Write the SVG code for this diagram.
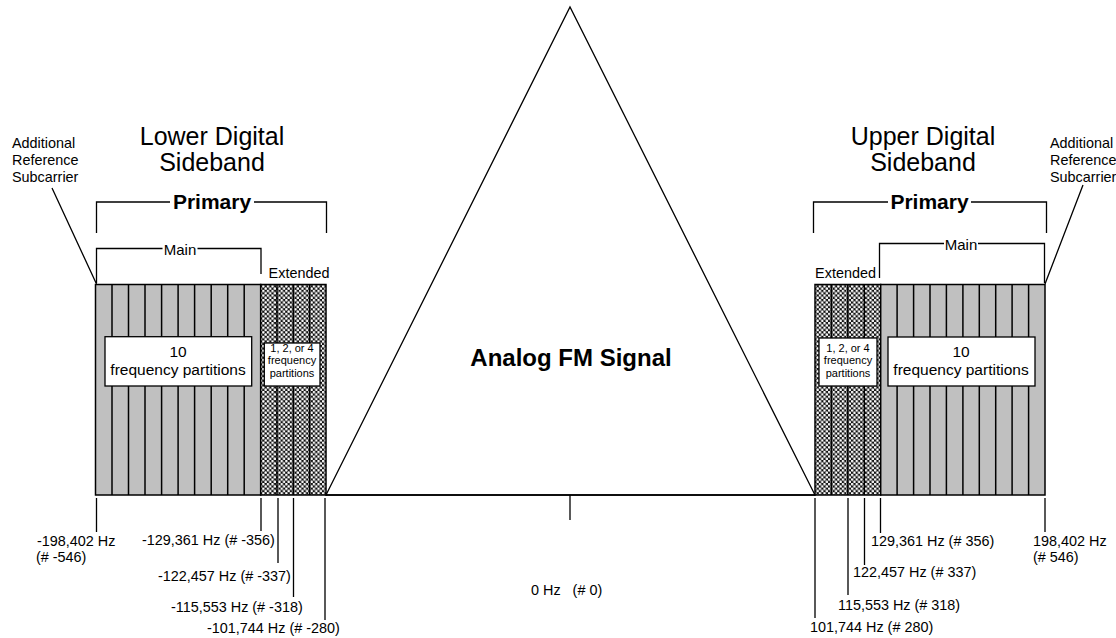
<svg xmlns="http://www.w3.org/2000/svg" width="1116" height="638" viewBox="0 0 1116 638">
<style>
text{font-family:"Liberation Sans",Arial,sans-serif;fill:#000}
.t14{font-size:14.4px}
.t11{font-size:11px}
.big{font-size:25px}
.pri{font-size:21px;font-weight:bold}
.ln{stroke:#000;stroke-width:1.3;fill:none}
.col{stroke:#000;stroke-width:1.5}
.gray{fill:#c0c0c0;stroke:#000;stroke-width:1.5}
.hat{fill:url(#xh);stroke:#000;stroke-width:1.5}
.box{fill:#fff;stroke:#000;stroke-width:1.3}
</style>
<defs>
<pattern id="xh" patternUnits="userSpaceOnUse" width="4.6" height="4.6">
<rect width="4.6" height="4.6" fill="#111"/>
<circle cx="1.15" cy="1.15" r="1.3" fill="#fff"/>
<circle cx="3.45" cy="3.45" r="1.3" fill="#fff"/>
</pattern>
</defs>
<rect width="1116" height="638" fill="#fff"/>

<g id="analog">
<path class="ln" d="M326,495 L570,7 L815,495 Z"/>
<text x="571" y="366" text-anchor="middle" style="font-size:24px;font-weight:bold">Analog FM Signal</text>
</g>

<g id="lower-sideband">
<text class="big" x="212" y="145" text-anchor="middle">Lower Digital</text>
<text class="big" x="212" y="171" text-anchor="middle">Sideband</text>
<rect class="gray" x="95.5" y="284.5" width="165.2" height="210.5"/>
<rect class="hat" x="260.7" y="284.5" width="65.3" height="210.5"/>
<path class="col" d="M112,284.5V495M128.5,284.5V495M145,284.5V495M161.6,284.5V495M178.1,284.5V495M194.6,284.5V495M211.2,284.5V495M227.7,284.5V495M244.2,284.5V495M277,284.5V495M293.3,284.5V495M309.6,284.5V495"/>
<rect class="box" x="105" y="336.7" width="146.7" height="49.3"/>
<text x="178" y="357" text-anchor="middle" style="font-size:15.5px">10</text>
<text x="178" y="375" text-anchor="middle" style="font-size:15.5px">frequency partitions</text>
<rect class="box" x="264.3" y="343" width="55.7" height="43"/>
<text class="t11" x="292" y="352" text-anchor="middle">1, 2, or 4</text>
<text class="t11" x="292" y="364" text-anchor="middle">frequency</text>
<text class="t11" x="292" y="377" text-anchor="middle">partitions</text>
</g>

<g id="lower-brackets">
<path class="ln" d="M96.5,233V202H170M254,202H326.5V233"/>
<text class="pri" x="212" y="209" text-anchor="middle">Primary</text>
<path class="ln" d="M96.5,283V248.5H162.5M197.5,248.5H261V274"/>
<text x="180" y="255" text-anchor="middle" style="font-size:15px">Main</text>
<text class="t14" x="299" y="278" text-anchor="middle">Extended</text>
</g>

<g id="upper-sideband">
<text class="big" x="923" y="145" text-anchor="middle">Upper Digital</text>
<text class="big" x="923" y="171" text-anchor="middle">Sideband</text>
<rect class="hat" x="815" y="284.5" width="65.7" height="210.5"/>
<rect class="gray" x="880.7" y="284.5" width="164.3" height="210.5"/>
<path class="col" d="M831.4,284.5V495M847.8,284.5V495M864.3,284.5V495M897.1,284.5V495M913.6,284.5V495M930,284.5V495M946.4,284.5V495M962.9,284.5V495M979.3,284.5V495M995.7,284.5V495M1012.1,284.5V495M1028.6,284.5V495"/>
<rect class="box" x="819" y="338" width="58" height="48"/>
<text class="t11" x="848" y="352" text-anchor="middle">1, 2, or 4</text>
<text class="t11" x="848" y="364" text-anchor="middle">frequency</text>
<text class="t11" x="848" y="377" text-anchor="middle">partitions</text>
<rect class="box" x="888" y="337" width="147" height="49"/>
<text x="961" y="357" text-anchor="middle" style="font-size:15.5px">10</text>
<text x="961" y="375" text-anchor="middle" style="font-size:15.5px">frequency partitions</text>
</g>

<g id="upper-brackets">
<path class="ln" d="M813.5,233V202H888M971,202H1046.5V233"/>
<text class="pri" x="929.5" y="209" text-anchor="middle">Primary</text>
<path class="ln" d="M879.5,278V243.5H944M978,243.5H1044.5V283"/>
<text x="961" y="250" text-anchor="middle" style="font-size:15px">Main</text>
<text class="t14" x="845.5" y="278" text-anchor="middle">Extended</text>
</g>

<g id="ref-left">
<text class="t14" x="12" y="148">Additional</text>
<text class="t14" x="12" y="165">Reference</text>
<text class="t14" x="12" y="182">Subcarrier</text>
</g>
<g id="ref-right">
<text class="t14" x="1050" y="148">Additional</text>
<text class="t14" x="1050" y="165">Reference</text>
<text class="t14" x="1050" y="182">Subcarrier</text>
</g>

<g id="connectors">
<path class="ln" d="M52,188L96.5,284M1083,185L1045,284"/>
<path class="ln" d="M326,495H815"/>
<path class="ln" d="M96.5,498V532M261,498V531M278,498V563M293.5,498V597M325,498V620"/>
<path class="ln" d="M570,495V520"/>
<path class="ln" d="M815,498V618M848,498V595M864.5,498V565M880.5,498V533M1045,498V532"/>
</g>

<g id="freq-labels">
<text class="t14" x="37" y="546">-198,402 Hz</text>
<text class="t14" x="36" y="562">(# -546)</text>
<text class="t14" x="142" y="545">-129,361 Hz (# -356)</text>
<text class="t14" x="158" y="581">-122,457 Hz (# -337)</text>
<text class="t14" x="171" y="612">-115,553 Hz (# -318)</text>
<text class="t14" x="207" y="633">-101,744 Hz (# -280)</text>
<text class="t14" x="531" y="595" xml:space="preserve" style="white-space:pre">0 Hz   (# 0)</text>
<text class="t14" x="871" y="546">129,361 Hz (# 356)</text>
<text class="t14" x="1033" y="546">198,402 Hz</text>
<text class="t14" x="1033" y="562">(# 546)</text>
<text class="t14" x="853" y="577">122,457 Hz (# 337)</text>
<text class="t14" x="838" y="610">115,553 Hz (# 318)</text>
<text class="t14" x="810" y="632">101,744 Hz (# 280)</text>
</g>
</svg>
